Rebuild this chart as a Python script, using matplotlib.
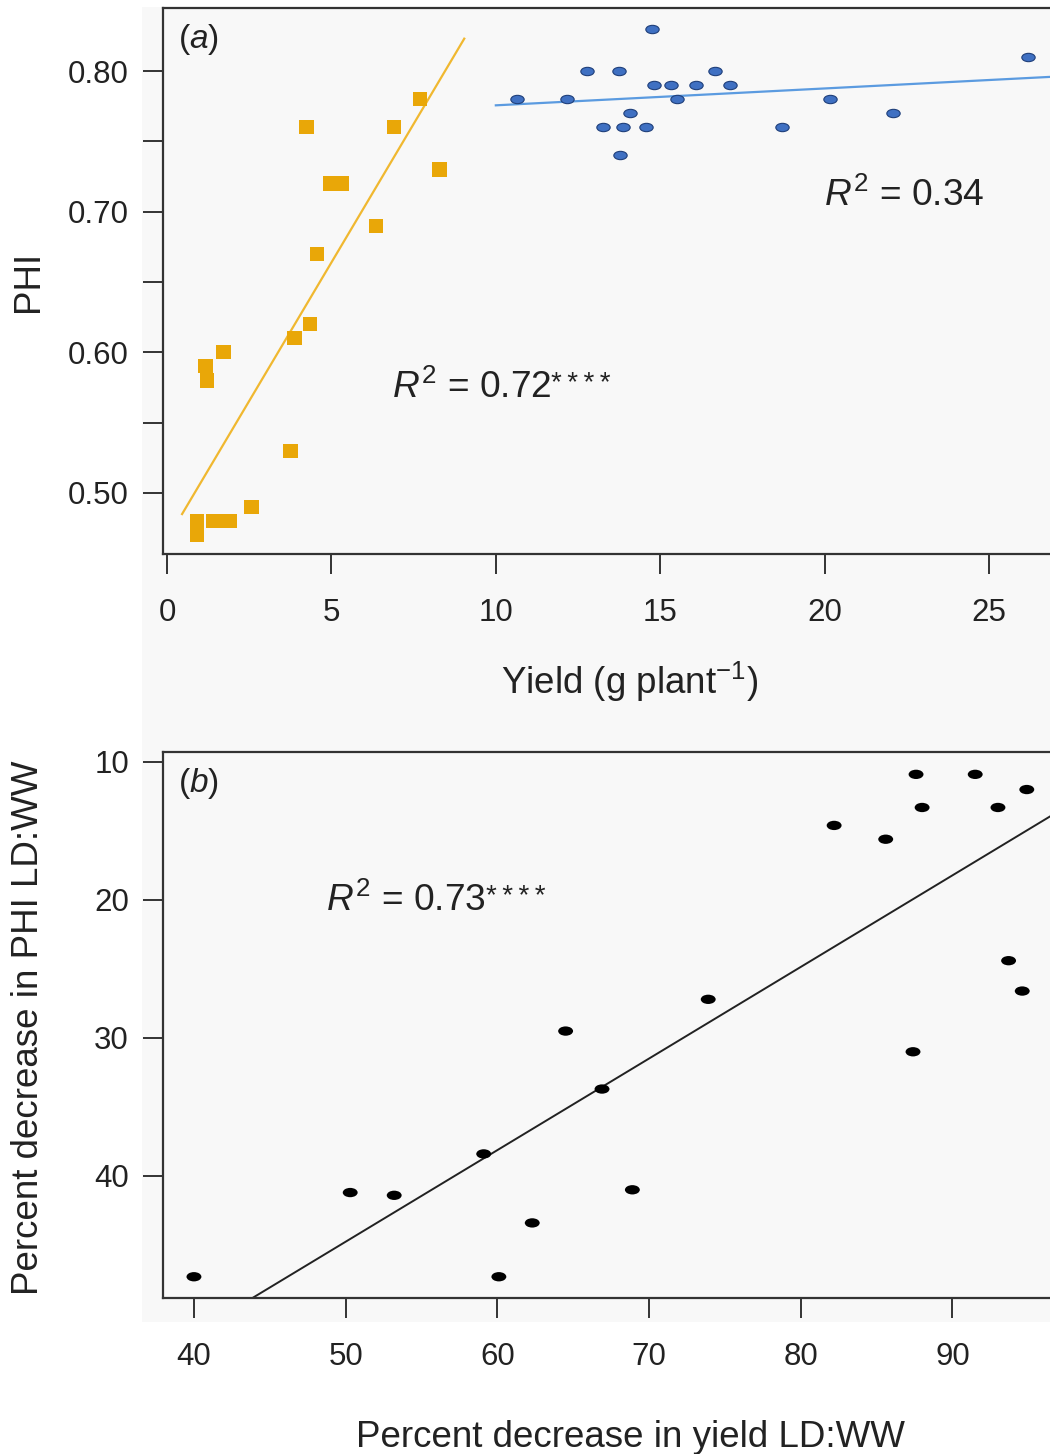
import matplotlib
matplotlib.use("Agg")
import matplotlib.pyplot as plt
from matplotlib.markers import MarkerStyle
from matplotlib.transforms import Affine2D
from matplotlib.patches import Rectangle

plt.rcParams['font.family'] = ['Liberation Sans', 'DejaVu Sans']
plt.rcParams['mathtext.fontset'] = 'custom'
plt.rcParams['mathtext.rm'] = 'Liberation Sans'
plt.rcParams['mathtext.it'] = 'Liberation Sans:italic'

# ---------------- data: panel (a) ----------------
orange_yield = [4.24, 6.91, 7.70, 8.29, 4.97, 5.33, 6.35, 4.57, 4.34, 3.88,
                1.72, 1.17, 1.22, 3.76, 2.57, 0.91, 0.91, 1.40, 1.65, 1.90]
orange_phi = [0.76, 0.76, 0.78, 0.73, 0.72, 0.72, 0.69, 0.67, 0.62, 0.61,
              0.60, 0.59, 0.58, 0.53, 0.49, 0.48, 0.47, 0.48, 0.48, 0.48]
orange_fit_x = [0.46, 9.04]
orange_fit_y = [0.485, 0.823]

blue_yield = [10.64, 12.16, 12.77, 13.73, 14.75, 13.25, 13.86, 14.58, 14.08, 13.77,
              14.82, 15.32, 16.08, 15.52, 16.66, 17.13, 18.69, 20.16, 22.07, 26.18]
blue_phi = [0.78, 0.78, 0.80, 0.80, 0.83, 0.76, 0.76, 0.76, 0.77, 0.74,
            0.79, 0.79, 0.79, 0.78, 0.80, 0.79, 0.76, 0.78, 0.77, 0.81]
blue_fit_x = [10.0, 27.0]
blue_fit_y = [0.7756, 0.7960]

a_xticks = [0, 5, 10, 15, 20, 25]
a_yticks = [0.50, 0.55, 0.60, 0.65, 0.70, 0.75, 0.80]
a_yticklabels = ['0.50', '', '0.60', '', '0.70', '', '0.80']

# ---------------- data: panel (b) ----------------
yield_dec = [40.0, 50.3, 53.2, 59.1, 62.3, 60.1, 64.5, 66.9, 68.9, 73.9,
             82.2, 85.6, 87.6, 88.0, 87.4, 91.5, 93.0, 94.9, 93.7, 94.6]
phi_dec = [47.3, 41.2, 41.4, 38.4, 43.4, 47.3, 29.5, 33.7, 41.0, 27.2,
           14.6, 15.6, 10.9, 13.3, 31.0, 10.9, 13.3, 12.0, 24.4, 26.6]
b_fit_x = [43.84, 96.46]
b_fit_y = [48.85, 13.93]

b_xticks = [40, 50, 60, 70, 80, 90]
b_yticks = [10, 20, 30, 40]

# ---------------- figure ----------------
W, H = 1050, 1454
fig = plt.figure(figsize=(W / 100, H / 100), dpi=100)
fig.patch.set_facecolor('white')

bg = '#f8f8f8'
fig.patches.append(Rectangle((142 / W, 1 - 1322 / H), 1 - 142 / W, (1322 - 7) / H,
                             transform=fig.transFigure, facecolor=bg,
                             edgecolor='none', zorder=-10))

spine_col = '#333333'
txt_col = '#222222'
tick_fs = 22.5
label_fs = 26.5
ann_fs = 26.7


def px_axes(left, top, right, bottom):
    return fig.add_axes([left / W, 1 - bottom / H, (right - left) / W, (bottom - top) / H])


def style(ax):
    ax.set_facecolor(bg)
    for s in ['left', 'top', 'bottom']:
        ax.spines[s].set_color(spine_col)
        ax.spines[s].set_linewidth(1.6)
    ax.spines['right'].set_visible(False)
    ax.tick_params(axis='both', direction='out', length=14.5, width=1.4,
                   color=spine_col, labelsize=tick_fs, labelcolor=txt_col)
    ax.tick_params(axis='x', pad=17)
    ax.tick_params(axis='y', pad=10)


def r2_text(ax, x, y, value, stars):
    t = ax.text(x, y, r'$\mathit{R}^{2}$ = ' + value, transform=ax.transAxes,
                fontsize=ann_fs, va='center', ha='left', color=txt_col)
    if stars:
        ax.annotate('\u2009'.join(stars), xy=(1.0, 1.0), xycoords=t,
                    xytext=(0.0, -1.0), textcoords='offset points',
                    ha='left', va='top', fontsize=20, color=txt_col)
    return t


# ----- panel (a) -----
axa = px_axes(163, 8, 1050, 554)
style(axa)
ell = MarkerStyle('o', transform=Affine2D().scale(1.6, 1.0))
axa.plot(orange_fit_x, orange_fit_y, color='#f0b830', lw=1.6, zorder=2)
axa.plot(blue_fit_x, blue_fit_y, color='#5b9be0', lw=1.6, zorder=2)
axa.scatter(orange_yield, orange_phi, marker='s', s=105, color='#e9a708',
            edgecolors='none', zorder=3)
axa.scatter(blue_yield, blue_phi, marker=ell, s=36, color='#3f70c2',
            edgecolors='#1f3f7a', linewidths=0.8, zorder=3)
axa.set_xlim(-0.12, 26.85)
axa.set_ylim(0.4566, 0.8448)
axa.set_xticks(a_xticks)
axa.set_xticklabels([str(t) for t in a_xticks])
axa.set_yticks(a_yticks)
axa.set_yticklabels(a_yticklabels)
axa.set_ylabel('PHI', fontsize=label_fs, va='center', ha='center', color=txt_col)
axa.yaxis.set_label_coords(-0.152, 0.5)
axa.set_xlabel(r'Yield (g plant$^{\mathregular{-1}}$)', fontsize=label_fs,
               va='baseline', ha='center', color=txt_col)
axa.xaxis.set_label_coords(0.5265, -0.256)
axa.text(0.017, 0.943, r'($\mathit{a}$)', transform=axa.transAxes,
         fontsize=24, va='center', ha='left', color=txt_col)
r2_text(axa, 0.258, 0.305, '0.72', '****')
r2_text(axa, 0.745, 0.655, '0.34', '')

# ----- panel (b) -----
axb = px_axes(163, 752, 1050, 1298)
style(axb)
axb.plot(b_fit_x, b_fit_y, color=txt_col, lw=1.4, zorder=2)
axb.scatter(yield_dec, phi_dec, marker=ell, s=45, color='black',
            edgecolors='none', zorder=3)
axb.set_xlim(37.96, 96.43)
axb.set_ylim(48.84, 9.28)
axb.set_xticks(b_xticks)
axb.set_xticklabels([str(t) for t in b_xticks])
axb.set_yticks(b_yticks)
axb.set_yticklabels([str(t) for t in b_yticks])
axb.set_ylabel('Percent decrease in PHI LD:WW', fontsize=label_fs, va='center',
               ha='center', color=txt_col)
axb.yaxis.set_label_coords(-0.152, 0.495)
axb.set_xlabel('Percent decrease in yield LD:WW', fontsize=label_fs,
               va='baseline', ha='center', color=txt_col)
axb.xaxis.set_label_coords(0.527, -0.273)
axb.text(0.017, 0.943, r'($\mathit{b}$)', transform=axb.transAxes,
         fontsize=24, va='center', ha='left', color=txt_col)
r2_text(axb, 0.184, 0.728, '0.73', '****')

fig.savefig('out.png', dpi=100, facecolor='white')
